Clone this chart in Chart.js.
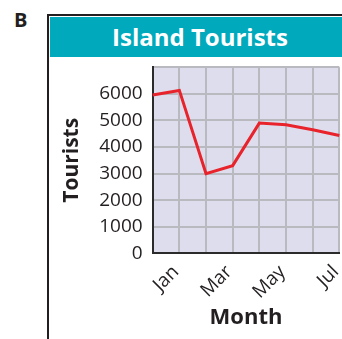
<!DOCTYPE html>
<html>
<head>
<meta charset="utf-8">
<script src="https://cdn.jsdelivr.net/npm/chart.js@4/dist/chart.umd.min.js"></script>
<style>
  html, body { margin: 0; background: #fff; font-family: "Open Sans", sans-serif; overflow: hidden; }
  #page { position: relative; width: 342px; height: 339px; overflow: hidden; }
  #letter { position: absolute; left: 14px; top: 7px; font-size: 20px; font-weight: 700; color: #231f20; line-height: 1.3; }
  #frame { position: absolute; left: 47px; top: 14px; width: 320px; height: 360px; border-left: 2.5px solid #231f20; border-top: 2.5px solid #231f20; }
  #header { position: absolute; left: 49.5px; top: 16.5px; width: 300px; height: 40px; background: #00a9bb; }
  #title { position: absolute; left: 0; top: 16.5px; width: 400px; height: 40px; line-height: 40px; text-align: center; color: #fff; font-size: 24px; font-weight: 700; }
  #chartBox { position: absolute; left: 50px; top: 58px; width: 292px; height: 281px; }
  canvas { display: block; }
</style>
</head>
<body>
<div id="page">
  <div id="letter">B</div>
  <div id="frame"></div>
  <div id="header"></div>
  <div id="title">Island Tourists</div>
  <div id="chartBox"><canvas id="touristChart" width="292" height="281"></canvas></div>
</div>
<script>
const months = ['Dec', 'Jan', 'Feb', 'Mar', 'Apr', 'May', 'Jun', 'Jul'];
const shownMonths = ['Jan', 'Mar', 'May', 'Jul'];
const tourists = [5960, 6130, 3000, 3300, 4900, 4840, 4650, 4430];
const yTicks = [0, 1000, 2000, 3000, 4000, 5000, 6000];

// lavender fill behind the plot grid
const plotBackground = {
    id: 'plotBackground',
    beforeDraw(chart) {
        const { ctx, chartArea } = chart;
        ctx.save();
        ctx.fillStyle = '#dedded';
        ctx.fillRect(chartArea.left, chartArea.top, chartArea.right - chartArea.left, chartArea.bottom - chartArea.top);
        ctx.restore();
    }
};

const ctx = document.getElementById('touristChart');

new Chart(ctx, {
    type: 'line',
    data: {
        labels: months,
        datasets: [
            {
                label: 'Tourists',
                data: tourists,
                borderColor: '#e8232b',
                backgroundColor: '#e8232b',
                borderWidth: 3,
                pointRadius: 0,
                tension: 0
            }
        ]
    },
    options: {
        responsive: false,
        animation: false,
        maintainAspectRatio: false,
        layout: { padding: { top: 9.3, right: 2.7, left: 0, bottom: 0 } },
        plugins: { legend: { display: false }, tooltip: { enabled: false } },
        scales: {
            x: {
                offset: false,
                grid: { color: '#b9b9c0', lineWidth: 2, drawTicks: false },
                border: { color: '#2b2b2b', width: 2 },
                ticks: {
                    autoSkip: false,
                    maxRotation: 45,
                    minRotation: 45,
                    padding: 4,
                    color: '#231f20',
                    font: { family: 'Open Sans', size: 19 },
                    // trailing space pulls the slanted label a little left of its tick
                    callback: (value, i) => shownMonths.includes(months[i]) ? months[i] + ' ' : ''
                },
                title: {
                    display: true,
                    text: 'Month',
                    color: '#231f20',
                    font: { family: 'Open Sans', size: 22, weight: 'bold' },
                    padding: { top: 0, bottom: 8 }
                },
                afterFit(scale) {
                    scale.height = 85.7;
                    scale.paddingLeft = 0;
                    scale.paddingRight = 0;
                }
            },
            y: {
                min: 0,
                max: 7000,
                grid: { color: '#b9b9c0', lineWidth: 2, drawTicks: false },
                border: { color: '#2b2b2b', width: 2 },
                ticks: {
                    stepSize: 1000,
                    autoSkip: false,
                    padding: 10,
                    color: '#231f20',
                    font: { family: 'Open Sans', size: 19 },
                    callback: value => yTicks.includes(value) ? String(value) : ''
                },
                title: {
                    display: true,
                    text: 'Tourists',
                    color: '#231f20',
                    font: { family: 'Open Sans', size: 21, weight: 'bold' },
                    padding: { top: 9, bottom: 0 }
                },
                afterFit(scale) {
                    scale.width = 102.7;
                    scale.paddingTop = 0;
                    scale.paddingBottom = 0;
                }
            }
        }
    },
    plugins: [plotBackground]
});
</script>
</body>
</html>
